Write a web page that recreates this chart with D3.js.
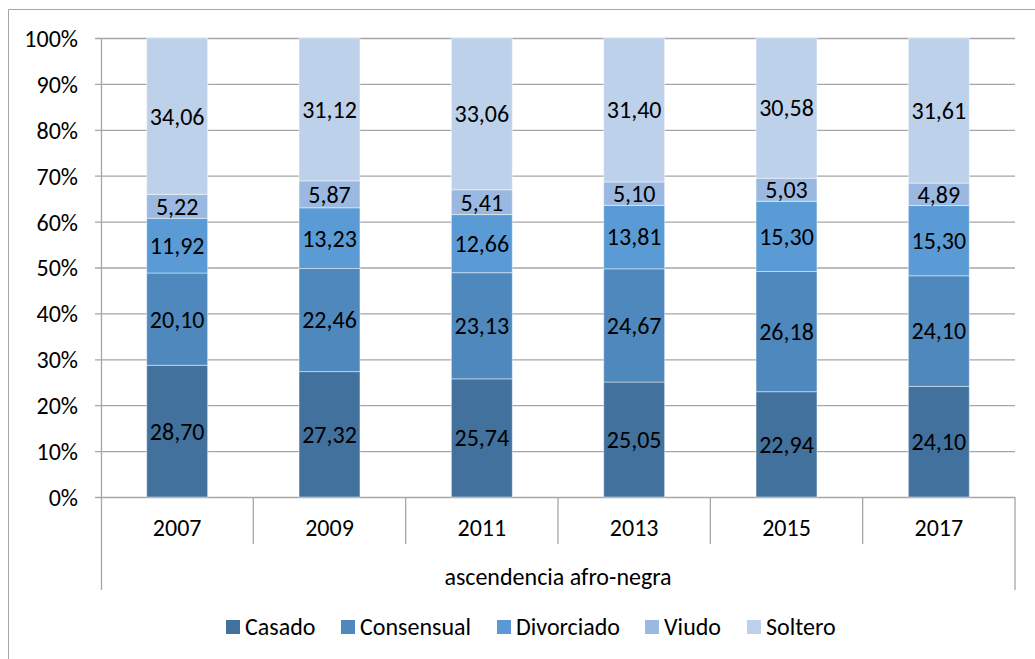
<!DOCTYPE html>
<html lang="es">
    <head>
        <meta charset="utf-8">
        <title>Estado civil - ascendencia afro-negra</title>
        <script src="https://d3js.org/d3.v7.min.js"></script>
        <style type="text/css">
            body { margin: 0; background: #fff; }
            text { font-family: Calibri, Carlito, Lato, "Open Sans", sans-serif; fill: #000; }
        </style>
    </head>
    <body>
        <script>
            // data
            var years = ["2007", "2009", "2011", "2013", "2015", "2017"];
            var seriesNames = ["Casado", "Consensual", "Divorciado", "Viudo", "Soltero"];
            var casado     = [28.70, 27.32, 25.74, 25.05, 22.94, 24.10];
            var consensual = [20.10, 22.46, 23.13, 24.67, 26.18, 24.10];
            var divorciado = [11.92, 13.23, 12.66, 13.81, 15.30, 15.30];
            var viudo      = [5.22, 5.87, 5.41, 5.10, 5.03, 4.89];
            var soltero    = [34.06, 31.12, 33.06, 31.40, 30.58, 31.61];
            var yTicks = [0, 10, 20, 30, 40, 50, 60, 70, 80, 90, 100];
            var groupLabel = "ascendencia afro-negra";

            var colors = ["#41719c", "#4e88bd", "#5b9bd5", "#9bb9e0", "#bdd1ea"];

            // config
            var width = 1035, height = 659;
            var plot = { left: 101, right: 1015, top: 38, bottom: 497 };
            var gridColor = "#a6a6a6";
            var axisFont = 24, legendFont = 24;

            var svg = d3.select("body").append("svg")
                .attr("width", width)
                .attr("height", height);

            // outer chart border (only top + left visible)
            svg.append("path")
                .attr("d", "M8.5," + height + "V9.5H" + width)
                .attr("fill", "none")
                .attr("stroke", gridColor)
                .attr("stroke-width", 1);

            var xScale = d3.scaleBand().domain(years)
                .range([plot.left, plot.right])
                .paddingInner(0.6).paddingOuter(0.3);
            var xOuter = d3.scaleBand().domain(years).range([plot.left, plot.right]);
            var yScale = d3.scaleLinear().domain([0, 100]).range([plot.bottom, plot.top]);

            var table = years.map(function(y, i) {
                return { year: y, Casado: casado[i], Consensual: consensual[i],
                         Divorciado: divorciado[i], Viudo: viudo[i], Soltero: soltero[i] };
            });
            var stacked = d3.stack().keys(seriesNames)(table);

            // gridlines + ticks
            var yAxis = d3.axisLeft(yScale).tickValues(yTicks)
                .tickSize(-(plot.right - plot.left))
                .tickPadding(23)
                .tickFormat(function(d) { return d + "%"; });
            var gy = svg.append("g")
                .attr("transform", "translate(" + plot.left + ",0)")
                .call(yAxis);
            gy.select(".domain").remove();
            gy.selectAll(".tick line")
                .attr("x1", -6)
                .attr("stroke", gridColor)
                .attr("stroke-width", 1.3);
            gy.selectAll(".tick text")
                .attr("font-size", axisFont)
                .attr("dy", "0.35em");

            // left / right axis lines
            svg.append("line")
                .attr("x1", plot.left + 0.5).attr("x2", plot.left + 0.5)
                .attr("y1", plot.top).attr("y2", 590)
                .attr("stroke", gridColor).attr("stroke-width", 1.3);
            svg.append("line")
                .attr("x1", plot.right).attr("x2", plot.right)
                .attr("y1", plot.bottom).attr("y2", 590)
                .attr("stroke", gridColor).attr("stroke-width", 1.3);

            // category separators
            svg.selectAll(".sep")
                .data(years.slice(1))
                .enter().append("line")
                .attr("class", "sep")
                .attr("x1", function(d) { return xOuter(d); })
                .attr("x2", function(d) { return xOuter(d); })
                .attr("y1", plot.bottom).attr("y2", 544)
                .attr("stroke", gridColor).attr("stroke-width", 1.3);

            // bars
            var layers = svg.selectAll(".layer")
                .data(stacked)
                .enter().append("g")
                .attr("class", "layer")
                .attr("fill", function(d, i) { return colors[i]; });

            layers.selectAll("rect")
                .data(function(d) { return d; })
                .enter().append("rect")
                .attr("x", function(d) { return xScale(d.data.year); })
                .attr("width", xScale.bandwidth())
                .attr("y", function(d) { return yScale(d[1]); })
                .attr("height", function(d) { return yScale(d[0]) - yScale(d[1]); })
                .attr("stroke", "#ffffff")
                .attr("stroke-opacity", 0.45)
                .attr("stroke-width", 1);

            // value labels
            var fmt = function(v) { return d3.format(".2f")(v).replace(".", ","); };
            layers.selectAll("text")
                .data(function(d) { return d; })
                .enter().append("text")
                .attr("x", function(d) { return xScale(d.data.year) + xScale.bandwidth() / 2; })
                .attr("y", function(d) { return (yScale(d[0]) + yScale(d[1])) / 2; })
                .attr("dy", "0.35em")
                .attr("text-anchor", "middle")
                .attr("font-size", axisFont)
                .style("fill", "#000")
                .text(function(d) { return fmt(d[1] - d[0]); });

            // year labels
            svg.selectAll(".year")
                .data(years)
                .enter().append("text")
                .attr("class", "year")
                .attr("x", function(d) { return xOuter(d) + xOuter.bandwidth() / 2; })
                .attr("y", 528)
                .attr("dy", "0.35em")
                .attr("text-anchor", "middle")
                .attr("font-size", axisFont)
                .text(function(d) { return d; });

            svg.append("text")
                .attr("x", (plot.left + plot.right) / 2)
                .attr("y", 577)
                .attr("dy", "0.35em")
                .attr("text-anchor", "middle")
                .attr("font-size", axisFont)
                .text(groupLabel);

            // legend
            var legendX = [226, 341, 497, 645, 747];
            var legend = svg.selectAll(".legend")
                .data(seriesNames)
                .enter().append("g")
                .attr("class", "legend")
                .attr("transform", function(d, i) { return "translate(" + legendX[i] + ",620)"; });

            legend.append("rect")
                .attr("width", 14)
                .attr("height", 14)
                .attr("fill", function(d, i) { return colors[i]; });

            legend.append("text")
                .attr("x", 19)
                .attr("y", 7)
                .attr("dy", "0.35em")
                .attr("font-size", legendFont)
                .text(function(d) { return d; });
        </script>
    </body>
</html>
